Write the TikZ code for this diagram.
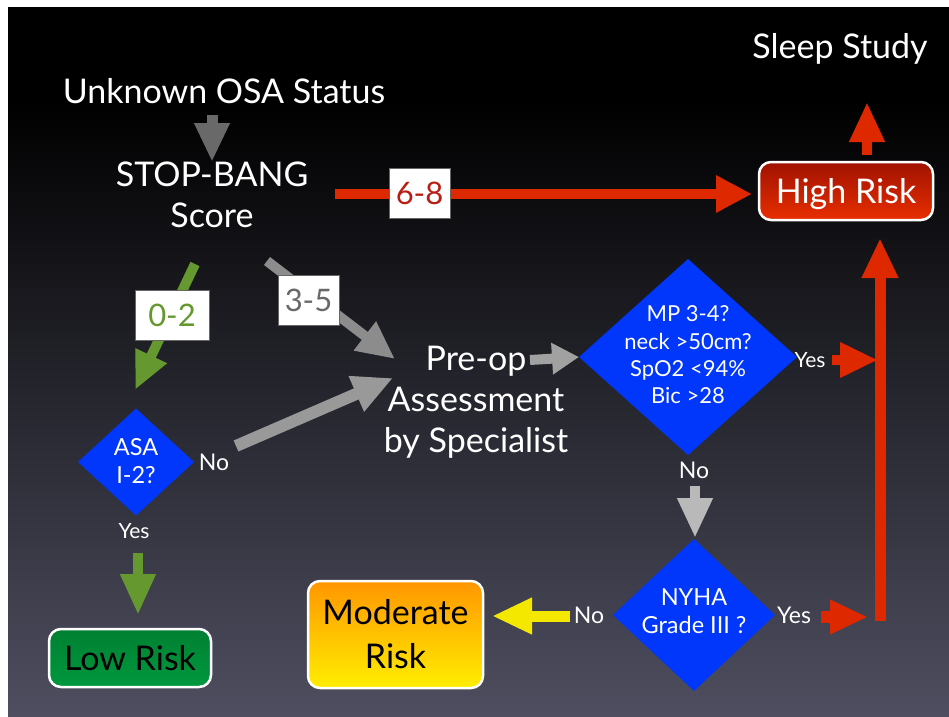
\documentclass[tikz,border=0pt]{standalone}
\usepackage{fontspec}
\setmainfont{Lato}
\usetikzlibrary{arrows.meta,shapes.geometric}
\definecolor{arrred}{RGB}{222,40,0}
\definecolor{lblred}{RGB}{185,30,20}
\definecolor{hrtop}{RGB}{160,18,0}
\definecolor{hrbot}{RGB}{232,46,0}
\definecolor{arrgreen}{RGB}{102,152,48}
\definecolor{lowgreen}{RGB}{0,152,62}
\definecolor{lowtop}{RGB}{0,128,50}
\definecolor{dkgray}{RGB}{105,105,105}
\definecolor{mdgray}{RGB}{140,140,140}
\definecolor{ltgray}{RGB}{185,185,185}
\definecolor{diablue}{RGB}{0,55,250}
\definecolor{arryellow}{RGB}{245,232,0}
\definecolor{modtop}{RGB}{255,150,0}
\definecolor{modbot}{RGB}{255,238,0}
\definecolor{bgmid}{RGB}{30,30,48}
\definecolor{bgbot}{RGB}{78,78,96}
\begin{document}
\begin{tikzpicture}[x=1pt,y=-1pt,
  barrow/.style n args={3}{line width=#1,-{Triangle[width=#2,length=#3]}},
  bigtxt/.style={text=white,font=\fontsize{34}{41}\selectfont,inner sep=0pt,align=center},
  smalltxt/.style={text=white,font=\fontsize{23}{28}\selectfont,inner sep=0pt},
  diatxt/.style={text=white,font=\fontsize{22}{27.3}\selectfont,inner sep=0pt,align=center},
  dia/.style={diamond,fill=diablue,inner sep=0pt,outer sep=0pt},
  riskbox/.style={rounded corners=12pt,draw=white,line width=2.5pt,inner sep=0pt,
    font=\fontsize{34}{44}\selectfont,align=center},
  lbl/.style={fill=white,draw=black!60,line width=0.8pt,inner sep=0pt,
    minimum width=61pt,minimum height=50pt,font=\fontsize{31}{36}\selectfont}]
\useasboundingbox (0,0) rectangle (949,716);
% background
\fill[white] (0,0) rectangle (949,716);
\fill[black] (8,7) rectangle (949,101);
\shade[top color=black,middle color=bgmid,bottom color=bgbot] (8,100) rectangle (949,716);

% coordinates for arrow ends
\coordinate (t1) at (212,115);  \coordinate (h1) at (212,162);
\coordinate (t68) at (335,194); \coordinate (h68) at (752,194);
\coordinate (tup) at (867,155); \coordinate (hup) at (867,102);
\coordinate (tv) at (880,621);  \coordinate (hv) at (880,238);
\coordinate (tym) at (832,360); \coordinate (hym) at (878,360);
\coordinate (tyn) at (821,617); \coordinate (hyn) at (868,617);
\coordinate (tnn) at (570,616); \coordinate (hnn) at (492,616);
\coordinate (tnm) at (695,486); \coordinate (hnm) at (695,538);
\coordinate (tya) at (138,553); \coordinate (hya) at (138,615);
\coordinate (t02) at (195,264); \coordinate (h02) at (135,390);
\coordinate (t35) at (267,261); \coordinate (h35) at (395,359);
\coordinate (tna) at (236,446); \coordinate (hna) at (393,378);
\coordinate (tpo) at (530,360);

% nodes
\node[bigtxt,anchor=base] (unk) at (224,103) {Unknown OSA Status};
\node[bigtxt] (stop) at (212,195) {STOP-BANG\\Score};
\node[bigtxt,anchor=base] (sleep) at (840,58) {Sleep Study};
\node[bigtxt] (preop) at (476,402) {Pre-op\\Assessment\\by Specialist};
\node[riskbox,top color=hrtop,bottom color=hrbot,text=white,minimum width=174pt,
  minimum height=58pt,text height=24pt,text depth=0pt] (hr) at (846,191) {High Risk};
\node[riskbox,top color=lowtop,bottom color=lowgreen,text=black,minimum width=162pt,
  minimum height=58pt,text height=24pt,text depth=0pt] (low) at (130,658) {Low Risk};
\node[riskbox,top color=modtop,bottom color=modbot,text=black,minimum width=175pt,
  minimum height=107pt] (mod) at (395.5,634.5) {Moderate\\Risk};
\node[dia,minimum width=218pt,minimum height=196pt] (mp) at (688,357) {};
\node[dia,minimum width=116pt,minimum height=107pt] (asa) at (136,462) {};
\node[dia,minimum width=162pt,minimum height=152pt] (nyha) at (694,615) {};

% arrows
\draw[dkgray,barrow={11pt}{33pt}{39pt}] (t1) -- (h1);
\draw[arrred,barrow={10pt}{35pt}{36pt}] (t68) -- (h68);
\draw[arrred,barrow={10pt}{33pt}{40pt}] (tup) -- (hup);
\draw[arrred,barrow={11pt}{34pt}{40pt}] (tv) -- (hv);
\draw[arrred,barrow={10pt}{33pt}{38pt}] (tym) -- (hym);
\draw[arrred,barrow={12pt}{32pt}{38pt}] (tyn) -- (hyn);
\draw[arryellow,barrow={11pt}{34pt}{40pt}] (tnn) -- (hnn);
\draw[ltgray,barrow={10pt}{33pt}{40pt}] (tnm) -- (hnm);
\draw[arrgreen,barrow={10pt}{33pt}{41pt}] (tya) -- (hya);
\draw[arrgreen,barrow={10pt}{32pt}{38pt}] (t02) -- (h02);
\draw[mdgray,barrow={10pt}{34pt}{38pt}] (t35) -- (h35);
\draw[black!40,barrow={12pt}{36pt}{40pt}] (tna) -- (hna);
\draw[black!37,barrow={10pt}{30pt}{27pt}] (tpo) -- (mp.west);

% labels on arrows
\node[lbl,text=lblred] (l68) at (419.5,193) {6-8};
\node[lbl,text=arrgreen,minimum width=74pt] (l02) at (172,315) {0-2};
\node[lbl,text=dkgray] (l35) at (308.5,300.5) {3-5};

% diamond texts
\node[diatxt] (mptxt) at (mp.center) [yshift=2pt] {MP 3-4?\\neck >50cm?\\SpO2 <94\%\\Bic >28};
\node[diatxt,font=\fontsize{23.5}{28}\selectfont] (asatxt) at (136,461.5) {ASA\\I-2?};
\node[diatxt,font=\fontsize{23.5}{28}\selectfont] (nyhatxt) at (694,611.5) {NYHA\\Grade III ?};

% yes/no labels
\node[smalltxt,anchor=base] (noasa) at (214,470) {No};
\node[smalltxt,anchor=base,font=\fontsize{21}{25}\selectfont] (yesasa) at (134,538) {Yes};
\node[smalltxt,anchor=base] (nomp) at (694,478) {No};
\node[smalltxt,anchor=base,font=\fontsize{21}{25}\selectfont] (yesmp) at (810,367) {Yes};
\node[smalltxt,anchor=base] (nony) at (589,623) {No};
\node[smalltxt,anchor=base] (yesny) at (794,623) {Yes};
\end{tikzpicture}
\end{document}
